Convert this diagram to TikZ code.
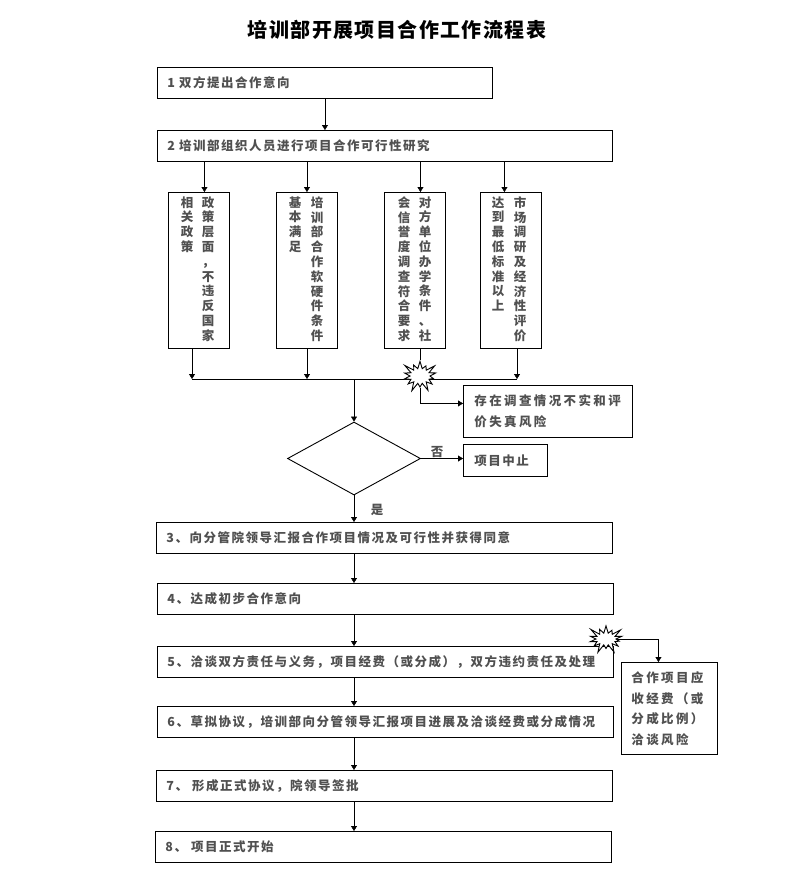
\documentclass[tikz,border=0pt]{standalone}
\usepackage{fontspec}
\usetikzlibrary{shapes.geometric,shapes.symbols,arrows.meta,backgrounds}
\newfontfamily\cjk[LetterSpace=12]{Noto Sans CJK SC}
\newfontfamily\cjkw[LetterSpace=19]{Noto Sans CJK SC}
\newfontfamily\cjkt[LetterSpace=7]{Noto Sans CJK SC}
\newfontfamily\cjkv{Noto Sans CJK SC}
\definecolor{txt}{HTML}{505050}
\begin{document}
\begin{tikzpicture}[x=1pt,y=-1pt,
 line width=0.9pt,
 arr/.style={-{Triangle[width=6pt,length=5pt]}},
 box/.style={draw, rectangle, anchor=north west, minimum height=31pt, inner xsep=10pt, inner ysep=0pt, align=left, text=txt, font=\cjk\bfseries\fontsize{12.5}{14}\selectfont},
 wbox/.style={box, font=\cjkw\bfseries\fontsize{12.5}{21}\selectfont, inner xsep=11pt},
 vbox/.style={draw, rectangle, anchor=north west, minimum width=61pt, minimum height=156pt, inner sep=0pt},
 vcol/.style={anchor=north, inner sep=0pt, align=center, text=txt, font=\cjkv\bfseries\fontsize{12.5}{14.8}\selectfont},
 burst/.style={starburst, draw, fill=white, inner sep=0pt, starburst point height=10pt, starburst points=14},
 lbl/.style={inner sep=0pt, text=txt, font=\cjkv\bfseries\fontsize{12.5}{14}\selectfont}
]
\useasboundingbox (0,0) rectangle (793,884);

\node[inner sep=0pt, font=\cjkt\bfseries\fontsize{20}{24}\selectfont] (title) at (397,30) {培训部开展项目合作工作流程表};

\node[box, text width=315pt] (b1) at (157,67) {1 双方提出合作意向};
\node[box, text width=435pt] (b2) at (157,130) {2 培训部组织人员进行项目合作可行性研究};

\node[vbox] (v1) at (168,192) {};
\node[vbox] (v2) at (276,192) {};
\node[vbox] (v3) at (384,192) {};
\node[vbox] (v4) at (480,192) {};
\node[vcol] (v1a) at (208,196) {政\\策\\层\\面\\，\\不\\违\\反\\国\\家};
\node[vcol] (v1b) at (187,196) {相\\关\\政\\策};
\node[vcol] (v2a) at (317,196) {培\\训\\部\\合\\作\\软\\硬\\件\\条\\件};
\node[vcol] (v2b) at (295,196) {基\\本\\满\\足};
\node[vcol] (v3a) at (425,196) {对\\方\\单\\位\\办\\学\\条\\件\\、\\社};
\node[vcol] (v3b) at (404,196) {会\\信\\誉\\度\\调\\查\\符\\合\\要\\求};
\node[vcol] (v4a) at (520,196) {市\\场\\调\\研\\及\\经\\济\\性\\评\\价};
\node[vcol] (v4b) at (498,196) {达\\到\\最\\低\\标\\准\\以\\上};

\coordinate (hl) at (192,379);
\coordinate (h2) at (307,379);
\coordinate (hr) at (517,379);
\node[burst, minimum width=40pt, minimum height=35pt] (s1) at (420,376) {};
\node[wbox, text width=147pt, minimum height=52pt] (r1) at (463,385) {存在调查情况不实和评\\价失真风险};

\node[diamond, draw, minimum width=133pt, minimum height=73pt, inner sep=0pt] (d) at (354,458.5) {};
\node[box, text width=62pt, minimum height=32pt, inner xsep=11pt] (stop) at (463,444) {项目中止};
\node[lbl] (no) at (437,452) {否};
\node[lbl] (yes) at (377,510) {是};

\node[box, text width=436pt] (b3) at (156,522) {3、向分管院领导汇报合作项目情况及可行性并获得同意};
\node[box, text width=436pt] (b4) at (157,583) {4、达成初步合作意向};
\node[box, text width=436pt] (b5) at (157,646) {5、洽谈双方责任与义务，项目经费（或分成），双方违约责任及处理};
\node[box, text width=436pt] (b6) at (157,706) {6、草拟协议，培训部向分管领导汇报项目进展及洽谈经费或分成情况};
\node[box, text width=436pt] (b7) at (156,770) {7、 形成正式协议，院领导签批};
\node[box, text width=436pt] (b8) at (155,831) {8、 项目正式开始};

\node[box, font=\cjkw\bfseries\fontsize{12.5}{20.5}\selectfont, text width=76pt, minimum height=92pt] (rb) at (621,662) {合作项目应\\收经费（或\\分成比例）\\洽谈风险};
\node[burst, minimum width=40pt, minimum height=32pt] (s2) at (606,639) {};

\begin{pgfonlayer}{background}
\draw[arr] (b1.south) -- (b1.south |- b2.north);
\draw[arr] ([xshift=5.5pt]v1.north |- b2.south) -- ([xshift=5.5pt]v1.north);
\draw[arr] (v2.north |- b2.south) -- (v2.north);
\draw[arr] ([xshift=5.5pt]v3.north |- b2.south) -- ([xshift=5.5pt]v3.north);
\draw[arr] ([xshift=-6.5pt]v4.north |- b2.south) -- ([xshift=-6.5pt]v4.north);
\draw[arr] (v1.south -| hl) -- (hl);
\draw[arr] (v2.south -| h2) -- (h2);
\draw (v3.south -| s1) -- (s1);
\draw[arr] (v4.south -| hr) -- (hr);
\draw (hl) -- (hr);
\draw[arr] (d.north |- hl) -- (d.north);
\draw[arr] (s1) |- ([yshift=8pt]r1.west);
\draw[arr] (d.east) -- (d.east -| stop.west);
\draw[arr] (d.south) -- (d.south |- b3.north);
\draw[arr] (d.south |- b3.south) -- (d.south |- b4.north);
\draw[arr] (d.south |- b4.south) -- (d.south |- b5.north);
\draw[arr] (d.south |- b5.south) -- (d.south |- b6.north);
\draw[arr] (d.south |- b6.south) -- (d.south |- b7.north);
\draw[arr] (d.south |- b7.south) -- (d.south |- b8.north);
\draw[arr] (s2) -| ([xshift=-11pt]rb.north);
\end{pgfonlayer}
\end{tikzpicture}
\end{document}
